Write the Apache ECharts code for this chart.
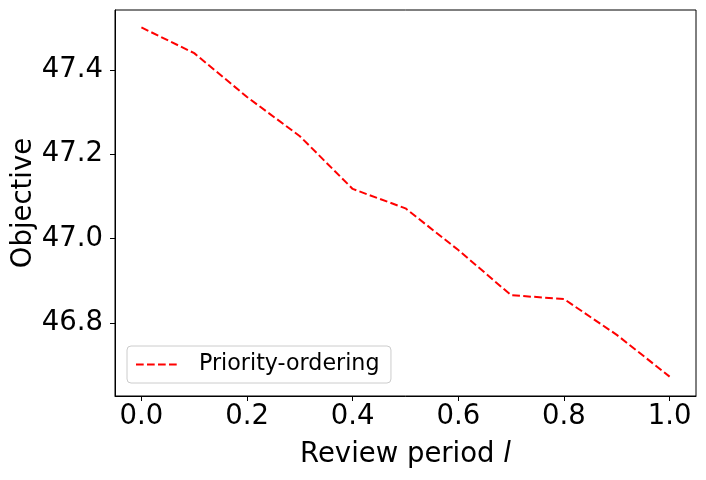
<!DOCTYPE html>
<html>
<head>
<meta charset="utf-8">
<script src="https://cdn.jsdelivr.net/npm/echarts@6/dist/echarts.min.js"></script>
<style>
html,body{margin:0;padding:0;background:#fff;}
#chart{width:706px;height:480px;}
</style>
</head>
<body>
<div id="chart"></div>
<script>
const reviewPeriods = [0.0, 0.1, 0.2, 0.3, 0.4, 0.5, 0.6, 0.7, 0.8, 0.9, 1.0];
const objectiveValues = [47.501, 47.440, 47.336, 47.243, 47.118, 47.072, 46.973, 46.866, 46.857, 46.772, 46.673];
const xTickValues = [0.0, 0.2, 0.4, 0.6, 0.8, 1.0];
const yTickValues = [46.8, 47.0, 47.2, 47.4];
const seriesName = 'Priority-ordering';

const chart = echarts.init(document.getElementById('chart'), null, {renderer: 'canvas'});
const font = 'DejaVu Sans';
chart.setOption({
  animation: false,
  backgroundColor: '#fff',
  grid: {
    left: 115, right: 10, top: 10, bottom: 84,
    containLabel: false,
    outerBoundsMode: 'none',
    show: true, borderColor: '#000', borderWidth: 1, backgroundColor: 'transparent'
  },
  legend: {
    data: [seriesName],
    left: 127, top: 346,
    orient: 'vertical',
    padding: [7.5, 11.5, 7.5, 8],
    itemWidth: 44, itemHeight: 14, itemGap: 6,
    backgroundColor: 'rgba(255,255,255,0.8)',
    borderColor: '#cccccc', borderWidth: 1, borderRadius: 4,
    textStyle: {fontFamily: font, fontSize: 22.2, color: '#000', padding: [0, 0, 0, 14]},
    itemStyle: {opacity: 0},
    lineStyle: {type: [7.7, 3.3], width: 2}
  },
  xAxis: {
    type: 'value',
    min: -0.05, max: 1.05,
    name: '{a|Review period }{b|l}',
    nameLocation: 'middle',
    nameGap: 45,
    nameMoveOverlap: false,
    nameTextStyle: {
      rich: {
        a: {fontFamily: font, fontSize: 27.5, color: '#000'},
        b: {fontFamily: font, fontSize: 27.5, color: '#000', fontStyle: 'italic'}
      }
    },
    splitLine: {show: false},
    axisLine: {show: true, onZero: false, lineStyle: {color: '#000', width: 1}},
    axisTick: {show: true, inside: false, length: 5, lineStyle: {color: '#000'}, customValues: xTickValues},
    axisLabel: {
      fontFamily: font, fontSize: 27.5, color: '#000', margin: 7,
      customValues: xTickValues,
      formatter: v => v.toFixed(1)
    }
  },
  yAxis: {
    type: 'value',
    min: 46.627, max: 47.5423,
    name: 'Objective',
    nameLocation: 'middle',
    nameGap: 77,
    nameMoveOverlap: false,
    nameRotate: 90,
    nameTextStyle: {fontFamily: font, fontSize: 27.5, color: '#000'},
    splitLine: {show: false},
    axisLine: {show: true, onZero: false, lineStyle: {color: '#000', width: 1}},
    axisTick: {show: true, inside: false, length: 5, lineStyle: {color: '#000'}, customValues: yTickValues},
    axisLabel: {
      fontFamily: font, fontSize: 27.5, color: '#000', margin: 12,
      customValues: yTickValues,
      formatter: v => v.toFixed(1)
    }
  },
  series: [{
    name: seriesName,
    type: 'line',
    data: reviewPeriods.map((x, i) => [x, objectiveValues[i]]),
    showSymbol: false,
    symbol: 'none',
    color: '#ff0000',
    lineStyle: {color: '#ff0000', width: 2, type: [7.7, 3.3]}
  }]
});
</script>
</body>
</html>
